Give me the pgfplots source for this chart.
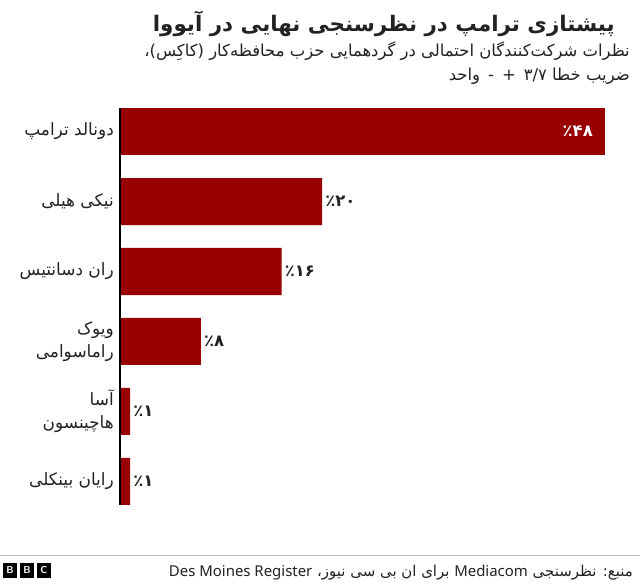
\documentclass[border=0pt]{standalone}
\usepackage{pgfplots}
\pgfplotsset{compat=1.18}
\usepackage{fontspec}
\setmainfont{Noto Sans}
\newfontfamily\arabicfont[Script=Arabic]{DejaVu Sans}
\TeXXeTstate=1
\definecolor{bbcred}{RGB}{153,0,0}
\definecolor{txt}{RGB}{34,34,34}
\begin{document}
\begin{tikzpicture}[x=1bp,y=1bp]
\path[use as bounding box] (0,0) rectangle (640,586);
\fill[white] (0,0) rectangle (640,586);
\node[anchor=base east, inner sep=0pt, text=txt] at (615,554) {\arabicfont\bfseries\fontsize{21.5}{25}\selectfont\beginR پیشتازی ترامپ در نظرسنجی نهایی در آیووا\endR};
\node[anchor=base east, inner sep=0pt, text=txt] at (630,529) {\arabicfont\fontsize{16.5}{19}\selectfont\beginR نظرات شرکت‌کنندگان احتمالی در گردهمایی حزب محافظه‌کار (کاکِس)،\endR};
\node[anchor=base east, inner sep=0pt, text=txt] at (630,505) {\arabicfont\fontsize{16.5}{19}\selectfont\beginR ضریب خطا ۳/۷ \,+\, - \,واحد\endR};
\begin{axis}[at={(120bp,478bp)}, anchor=north west, scale only axis,
  width=485bp, height=397bp, xmin=0, xmax=48, ymin=-0.336, ymax=5.336,
  y dir=reverse, xbar, bar width=47bp, bar shift=0pt,
  axis x line=none, axis y line=left,
  axis line style={-, line width=1.5bp, black},
  axis on top,
  ytick={0,1,2,3,4,5},
  yticklabels={{\beginR دونالد ترامپ\endR},{\beginR نیکی هیلی\endR},{\beginR ران دسانتیس\endR},{\beginR ویوک\endR\\\beginR راماسوامی\endR},{\beginR آسا\endR\\\beginR هاچینسون\endR},{\beginR رایان بینکلی\endR}},
  major tick length=0pt,
  yticklabel style={font=\arabicfont\fontsize{17}{23}\selectfont, text=txt, align=right, inner sep=0pt, xshift=-6bp},
  clip=false]
\addplot[fill=bbcred, draw=none, nodes near coords, point meta=explicit symbolic,
  nodes near coords style={font=\arabicfont\bfseries\fontsize{16.5}{19}\selectfont, text=white, anchor=east, inner sep=0pt, xshift=-12bp}]
  table[x=v, y=c, meta=l] {
c v l
0 48 ٪۴۸
};
\addplot[fill=bbcred, draw=none, nodes near coords, point meta=explicit symbolic,
  nodes near coords style={font=\arabicfont\bfseries\fontsize{16.5}{19}\selectfont, text=txt, anchor=west, inner sep=0pt, xshift=3bp}]
  table[x=v, y=c, meta=l] {
c v l
1 20 ٪۲۰
2 16 ٪۱۶
3 8 ٪۸
4 1 ٪۱
5 1 ٪۱
};
\end{axis}
\draw[line width=1bp, black!25] (0,30.5) -- (640,30.5);
\foreach \i/\ch in {0/B,1/B,2/C} {
  \fill[black] (3+\i*17,23) rectangle (17+\i*17,8);
  \node[text=white, font=\sffamily\bfseries\fontsize{10}{10}\selectfont, inner sep=0pt] at (10+\i*17,15.5) {\ch};
}
\node[anchor=base east, inner sep=0pt, text=txt] at (633,9) {\arabicfont\fontsize{15}{17}\selectfont\beginR منبع: نظرسنجی \beginL{\rmfamily Mediacom}\endL{} برای ان بی سی نیوز، \beginL{\rmfamily Des Moines Register}\endL\endR};
\end{tikzpicture}
\end{document}
